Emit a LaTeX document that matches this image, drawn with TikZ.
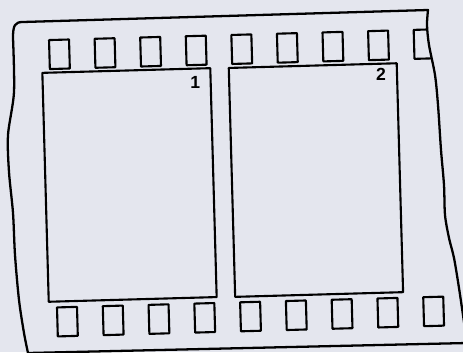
\documentclass[tikz,border=0pt]{standalone}
\usepackage{fontspec}
\setsansfont{Liberation Sans}
\definecolor{paper}{RGB}{228,230,238}
\newcommand{\filmedge}{(28,353) -- plot[smooth] coordinates {(28,353) (24,333) (19,300) (15,255) (13,213) (9,172) (8,135) (14,92) (13,38)}
  .. controls (13,25) and (15,22) .. (23,22) -- (428,10)
  -- plot[smooth] coordinates {(428,10) (427,25) (429,45) (435,75) (438,105) (441,150) (444,185) (445,215) (449,238) (454,258) (459,288) (464,322) (467,343)}
  -- cycle}
\tikzset{
  hole/.style={line width=1.2pt},
  framebox/.style={line width=1.2pt},
  numlabel/.style={font=\sffamily\bfseries\fontsize{10}{10}\selectfont,inner sep=0pt}
}

\begin{document}
\begin{tikzpicture}[x=0.02cm,y=-0.02cm,line cap=round,line join=round]
  \useasboundingbox (0,0) rectangle (463,352);
  \fill[paper] (0,0) rectangle (463,352);
  \clip (0,0) rectangle (463,352);
  \draw[line width=1.3pt] \filmedge;
  \begin{scope}
    \clip \filmedge;
    \begin{scope}[rotate around={1.6:(232,180)}]
      \foreach \i in {0,...,8} {
        \draw[hole] ({53+45.6*\i},35) rectangle +(20,29);
        \draw[hole] ({53.5+45.8*\i},302.5) rectangle +(20,29);
      }
      \draw[framebox] (45.4,67.6) rectangle (213.4,296.6);
      \draw[framebox] (231.9,67.9) rectangle (399.9,296.9);
      \node[numlabel] (num1) at (198,81) {1};
      \node[numlabel] (num2) at (384,79) {2};
    \end{scope}
  \end{scope}
\end{tikzpicture}
\end{document}
